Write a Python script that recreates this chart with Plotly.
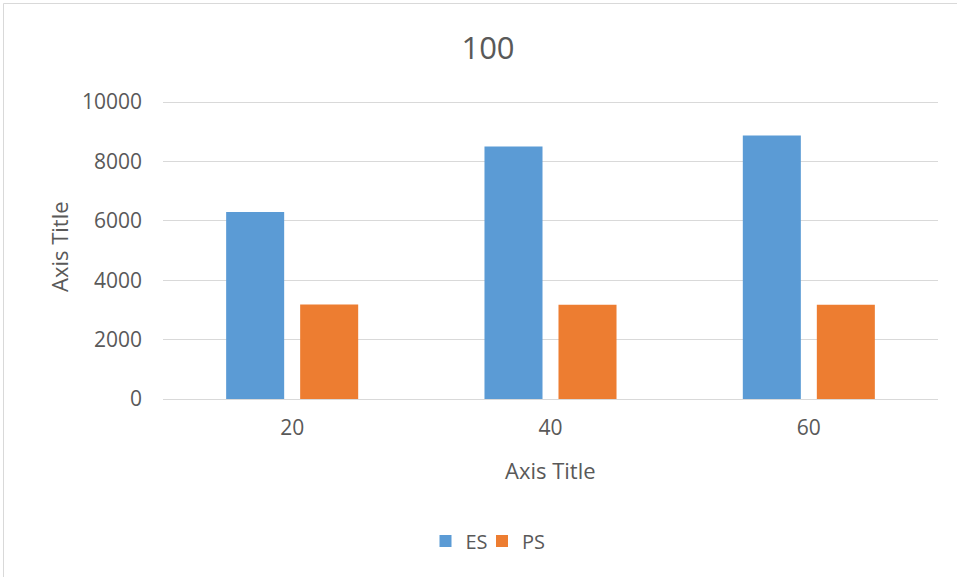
import plotly.graph_objects as go

categories = ["20", "40", "60"]
es_values = [6300, 8505, 8870]
ps_values = [3180, 3170, 3170]
y_ticks = [0, 2000, 4000, 6000, 8000, 10000]
y_tick_labels = [str(v) for v in y_ticks]

W, H = 957, 577
L, R, T, B = 163, 19, 97, 178
TEXT = "#595959"
GRID = "#D9D9D9"
FONT = "Open Sans"
# a little headroom above 10000 so its gridline is drawn
Y_MAX = 10000 * (H - T - B) / (H - 102 - B)

def px_x(x):
    return (x - L) / (W - L - R)

def px_y(y):
    return 1 - (y - T) / (H - T - B)

fig = go.Figure()
fig.add_trace(go.Bar(name="ES", x=categories, y=es_values, marker_color="#5B9BD5",
                     marker_line_width=0, legend="legend"))
fig.add_trace(go.Bar(name="PS", x=categories, y=ps_values, marker_color="#ED7D31",
                     marker_line_width=0, legend="legend2"))

legend_common = dict(orientation="h", xanchor="center", yanchor="middle",
                     y=px_y(541), font=dict(size=20, color=TEXT), itemwidth=30,
                     bgcolor="rgba(0,0,0,0)")

fig.update_layout(
    width=W, height=H,
    margin=dict(l=L, r=R, t=T, b=B, autoexpand=False),
    paper_bgcolor="white", plot_bgcolor="white",
    barmode="group", bargap=0.427, bargroupgap=0.216,
    font=dict(family=FONT, color=TEXT, size=20),
    title=dict(text="100", x=px_x(488), xref="paper", xanchor="center",
               y=1 - 48 / H, yref="container", yanchor="middle",
               font=dict(family=FONT, size=31, color=TEXT)),
    showlegend=True,
    legend=dict(x=px_x(459.5), **legend_common),
    legend2=dict(x=px_x(516.5), **legend_common),
    xaxis=dict(type="category", showgrid=False, showline=True, linecolor=GRID,
               linewidth=1, ticks="", tickfont=dict(size=21, color=TEXT),
               ticklabelstandoff=10),
    yaxis=dict(range=[0, Y_MAX], tickvals=y_ticks, ticktext=y_tick_labels,
               showgrid=True, gridcolor=GRID,
               gridwidth=1, zeroline=False, showline=False, ticks="",
               tickfont=dict(size=21, color=TEXT), ticklabelstandoff=20),
    annotations=[
        dict(text="Axis Title", x=px_x(550), y=px_y(470), xref="paper", yref="paper",
             xanchor="center", yanchor="middle", showarrow=False,
             font=dict(size=22, color=TEXT)),
        dict(text="Axis Title", x=px_x(59), y=px_y(247), xref="paper", yref="paper",
             xanchor="center", yanchor="middle", showarrow=False, textangle=-90,
             font=dict(size=22, color=TEXT)),
    ],
    shapes=[
        dict(type="rect", xref="paper", yref="paper",
             x0=px_x(3.5), x1=px_x(970), y0=px_y(590), y1=px_y(3.5),
             line=dict(color=GRID, width=1), fillcolor="rgba(0,0,0,0)", layer="below"),
    ],
)

fig.write_html("out.html")
